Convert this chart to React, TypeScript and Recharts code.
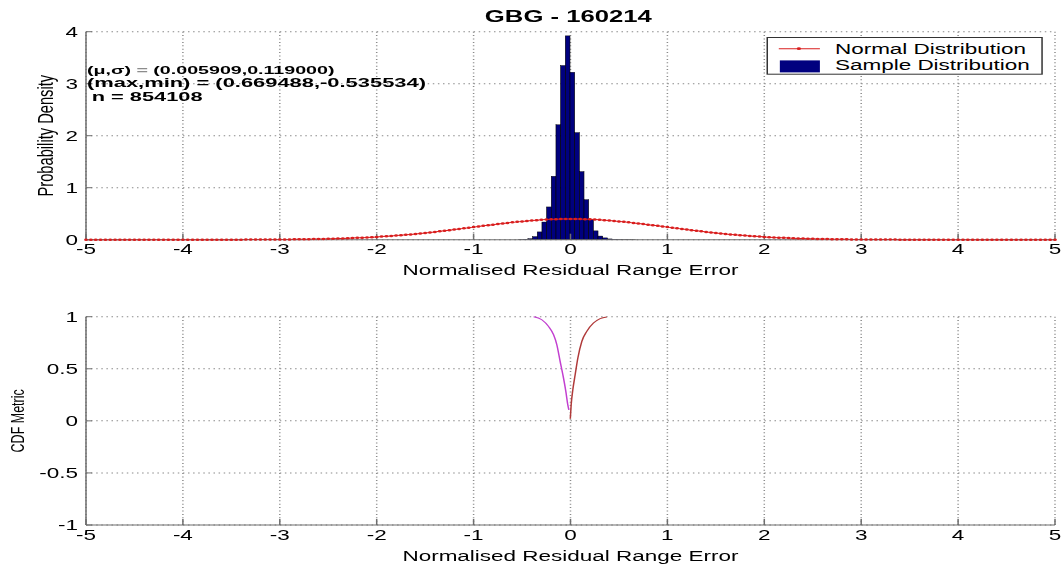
import React from 'react';
import {
  ComposedChart,
  Bar,
  Line,
  XAxis,
  YAxis,
  CartesianGrid,
  Legend,
  Label,
} from 'recharts';

// ---------- data ----------
const xTicks = [-5, -4, -3, -2, -1, 0, 1, 2, 3, 4, 5];
const pdfTicks = [0, 1, 2, 3, 4];
const cdfTicks = [-1, -0.5, 0, 0.5, 1];

// histogram: 25 bins between min and max
const binWidth = 0.0482;
const binCenters = [
  -0.5114, -0.4632, -0.415, -0.3668, -0.3186, -0.2704, -0.2222, -0.174, -0.1258,
  -0.0776, -0.0294, 0.0188, 0.067, 0.1152, 0.1634, 0.2116, 0.2598, 0.308, 0.3562,
  0.4044, 0.4526, 0.5008, 0.549, 0.5972, 0.6454,
];
const binDensity = [
  0.004, 0.008, 0.02, 0.06, 0.15, 0.34, 0.63, 1.22, 2.21, 3.35, 3.92, 3.22, 2.06,
  1.31, 0.77, 0.39, 0.17, 0.07, 0.035, 0.015, 0.008, 0.005, 0.003, 0.002, 0.001,
];

// normal distribution curve sampled every 0.05 from -5 to 5
const normalStart = -5;
const normalStep = 0.05;
const normalDensity = [
  0, 0, 0, 0, 0, 0, 0, 0, 0, 0, 0, 0, 0, 0,
  0.0001, 0.0001, 0.0001, 0.0001, 0.0001, 0.0001, 0.0001,
  0.0002, 0.0002, 0.0002, 0.0003, 0.0004, 0.0004, 0.0005, 0.0006, 0.0007,
  0.0009, 0.001, 0.0012, 0.0015, 0.0017, 0.002, 0.0024, 0.0028, 0.0033, 0.0038,
  0.0044, 0.0051, 0.006, 0.0069, 0.0079, 0.0091, 0.0104, 0.0119, 0.0136, 0.0154,
  0.0175, 0.0198, 0.0224, 0.0252, 0.0283, 0.0317, 0.0355, 0.0396, 0.044, 0.0488,
  0.054, 0.0596, 0.0656, 0.0721, 0.079, 0.0863, 0.094, 0.1023, 0.1109, 0.12,
  0.1295, 0.1394, 0.1497, 0.1604, 0.1714, 0.1826, 0.1942, 0.2059, 0.2179, 0.2299,
  0.242, 0.2541, 0.2661, 0.278, 0.2897, 0.3011, 0.3123, 0.323, 0.3332, 0.3429,
  0.3521, 0.3605, 0.3683, 0.3752, 0.3814, 0.3867, 0.391, 0.3945, 0.397, 0.3984,
  0.3989,
  0.3984, 0.397, 0.3945, 0.391, 0.3867, 0.3814, 0.3752, 0.3683, 0.3605, 0.3521,
  0.3429, 0.3332, 0.323, 0.3123, 0.3011, 0.2897, 0.278, 0.2661, 0.2541, 0.242,
  0.2299, 0.2179, 0.2059, 0.1942, 0.1826, 0.1714, 0.1604, 0.1497, 0.1394, 0.1295,
  0.12, 0.1109, 0.1023, 0.094, 0.0863, 0.079, 0.0721, 0.0656, 0.0596, 0.054,
  0.0488, 0.044, 0.0396, 0.0355, 0.0317, 0.0283, 0.0252, 0.0224, 0.0198, 0.0175,
  0.0154, 0.0136, 0.0119, 0.0104, 0.0091, 0.0079, 0.0069, 0.006, 0.0051, 0.0044,
  0.0038, 0.0033, 0.0028, 0.0024, 0.002, 0.0017, 0.0015, 0.0012, 0.001, 0.0009,
  0.0007, 0.0006, 0.0005, 0.0004, 0.0004, 0.0003, 0.0002, 0.0002, 0.0002,
  0.0001, 0.0001, 0.0001, 0.0001, 0.0001, 0.0001, 0.0001,
  0, 0, 0, 0, 0, 0, 0, 0, 0, 0, 0, 0, 0, 0,
];

// CDF metric curves
const cdfLeftX = [-0.381, -0.296, -0.227, -0.175, -0.141, -0.107, -0.072, -0.048, -0.028, -0.017];
const cdfLeftY = [1.0, 0.971, 0.907, 0.827, 0.731, 0.571, 0.41, 0.282, 0.154, 0.106];
const cdfRightX = [-0.002, 0.007, 0.024, 0.048, 0.076, 0.117, 0.168, 0.237, 0.306, 0.375];
const cdfRightY = [0.02, 0.154, 0.298, 0.442, 0.603, 0.763, 0.859, 0.939, 0.981, 0.997];

const titleText = 'GBG - 160214';
const statsMuSigma = '(0.005909,0.119000)';
const statsMaxMin = '(max,min) = (0.669488,-0.535534)';
const statsN = 'n = 854108';
const xLabelText = 'Normalised Residual Range Error';

// ---------- tables ----------
const histData = binCenters.map((x, i) => ({ x, y: binDensity[i] }));
const normalData = normalDensity.map((y, i) => ({ x: normalStart + i * normalStep, y }));
const cdfLeft = cdfLeftX.map((x, i) => ({ x, y: cdfLeftY[i] }));
const cdfRight = cdfRightX.map((x, i) => ({ x, y: cdfRightY[i] }));

// ---------- styles ----------
const FONT = "'Liberation Sans', Arial, Helvetica, sans-serif";
const SX = 1.5; // horizontal stretch of the whole figure
const W = 1062 / SX;
const PLOT_W = W - 57.33 - 4.67;
const AXIS = '#6e6e6e';
const GRID = '#8a8a8a';
const RED = '#d91e1e';
const NAVY = '#00007f';
const tickStyle = { fill: '#000', fontSize: 15, fontFamily: FONT };

// bar whose width spans one histogram bin on the x scale
const HistBar = (props: any) => {
  const { x, y, width, height } = props;
  if (height == null || !isFinite(height)) return null;
  const w = (binWidth / 10) * PLOT_W;
  const cx = x + width / 2;
  return (
    <rect
      x={cx - w / 2}
      y={y}
      width={w}
      height={Math.max(height, 0)}
      fill={NAVY}
      stroke="#000"
      strokeWidth={0.4}
    />
  );
};

const xLabel = (offset: number) => (props: any) => {
  const vb = props.viewBox || {};
  return (
    <text
      x={vb.x + vb.width / 2}
      y={vb.y + offset}
      textAnchor="middle"
      fontSize={15}
      fontFamily={FONT}
      fill="#000"
    >
      {xLabelText}
    </text>
  );
};

const yLabel = (text: string, cx: number, size: number) => (props: any) => {
  const vb = props.viewBox || {};
  const cy = vb.y + vb.height / 2;
  return (
    <text
      x={cx}
      y={cy}
      transform={`rotate(-90, ${cx}, ${cy})`}
      textAnchor="middle"
      dominantBaseline="central"
      fontSize={size}
      fontFamily={FONT}
      fill="#000"
    >
      {text}
    </text>
  );
};

const legendContent = () => (
  <svg width={184.2} height={37.7} style={{ display: 'block', overflow: 'visible' }}>
    <rect x={0.5} y={0.5} width={183.2} height={36.7} fill="#fff" stroke="#333" strokeWidth={1} />
    <line x1={8.2} x2={35.6} y1={11.7} y2={11.7} stroke={RED} strokeWidth={1} />
    <circle cx={21.6} cy={11.7} r={1.4} fill={RED} />
    <text x={45.6} y={16.7} fontSize={15} fontFamily={FONT} fill="#000">
      Normal Distribution
    </text>
    <rect x={8.9} y={23.4} width={26.7} height={12} fill={NAVY} />
    <text x={45.6} y={32.7} fontSize={15} fontFamily={FONT} fill="#000">
      Sample Distribution
    </text>
  </svg>
);

const blank = () => '';

export default function App() {
  return (
    <div
      style={{
        position: 'absolute',
        left: 0,
        top: 0,
        width: 1062,
        height: 570,
        background: '#fff',
        overflow: 'hidden',
      }}
    >
      <div
        style={{
          position: 'absolute',
          left: 0,
          top: 0,
          width: W,
          height: 570,
          transform: `scaleX(${SX})`,
          transformOrigin: '0 0',
        }}
      >
        {/* top: histogram + normal pdf */}
        <div style={{ position: 'absolute', left: 0, top: 0 }}>
          <ComposedChart
            width={W}
            height={290}
            data={histData}
            margin={{ top: 31.7, right: 4.67, left: 0, bottom: 0 }}
          >
            <CartesianGrid stroke={GRID} strokeDasharray="1 2.4" strokeWidth={1} />
            <XAxis
              dataKey="x"
              type="number"
              domain={[-5, 5]}
              ticks={xTicks}
              interval={0}
              height={50.3}
              tickSize={-6}
              tickMargin={9.5}
              axisLine={{ stroke: AXIS }}
              tickLine={{ stroke: AXIS }}
              tick={tickStyle}
            >
              <Label content={xLabel(35.8)} />
            </XAxis>
            <XAxis
              xAxisId="top"
              orientation="top"
              dataKey="x"
              type="number"
              domain={[-5, 5]}
              ticks={xTicks}
              interval={0}
              height={0}
              tickSize={-6}
              tickFormatter={blank}
              axisLine={{ stroke: AXIS }}
              tickLine={{ stroke: AXIS }}
            />
            <YAxis
              type="number"
              domain={[0, 4]}
              ticks={pdfTicks}
              interval={0}
              width={57.33}
              tickSize={-4}
              tickMargin={9.3}
              axisLine={{ stroke: AXIS }}
              tickLine={{ stroke: AXIS }}
              tick={tickStyle}
            >
              <Label content={yLabel('Probability Density', 30, 14.7)} />
            </YAxis>
            <YAxis
              yAxisId="right"
              orientation="right"
              type="number"
              domain={[0, 4]}
              ticks={pdfTicks}
              interval={0}
              width={0}
              tickSize={-4}
              tickFormatter={blank}
              axisLine={{ stroke: AXIS }}
              tickLine={{ stroke: AXIS }}
            />
            <Bar
              dataKey="y"
              barSize={3}
              fill={NAVY}
              shape={HistBar}
              isAnimationActive={false}
            />
            <Line
              data={normalData}
              dataKey="y"
              type="linear"
              stroke={RED}
              strokeWidth={1}
              dot={{ r: 1.25, fill: RED, stroke: 'none' }}
              activeDot={false}
              isAnimationActive={false}
            />
            <Legend
              layout="horizontal"
              verticalAlign="middle"
              align="center"
              content={legendContent}
              wrapperStyle={{
                position: 'absolute',
                left: 511.1,
                top: 37.3,
                width: 184.2,
                height: 37.7,
                margin: 0,
                padding: 0,
              }}
            />
          </ComposedChart>
        </div>

        {/* bottom: CDF metric */}
        <div style={{ position: 'absolute', left: 0, top: 290 }}>
          <ComposedChart
            width={W}
            height={280}
            margin={{ top: 26.7, right: 4.67, left: 0, bottom: 0 }}
          >
            <CartesianGrid stroke={GRID} strokeDasharray="1 2.4" strokeWidth={1} />
            <XAxis
              dataKey="x"
              type="number"
              domain={[-5, 5]}
              ticks={xTicks}
              interval={0}
              height={45}
              tickSize={-6}
              tickMargin={10.5}
              axisLine={{ stroke: AXIS }}
              tickLine={{ stroke: AXIS }}
              tick={tickStyle}
            >
              <Label content={xLabel(36.5)} />
            </XAxis>
            <XAxis
              xAxisId="top"
              orientation="top"
              dataKey="x"
              type="number"
              domain={[-5, 5]}
              ticks={xTicks}
              interval={0}
              height={0}
              tickSize={-6}
              tickFormatter={blank}
              axisLine={{ stroke: AXIS }}
              tickLine={{ stroke: AXIS }}
            />
            <YAxis
              type="number"
              domain={[-1, 1]}
              ticks={cdfTicks}
              interval={0}
              width={57.33}
              tickSize={-4}
              tickMargin={9.3}
              axisLine={{ stroke: AXIS }}
              tickLine={{ stroke: AXIS }}
              tick={tickStyle}
            >
              <Label content={yLabel('CDF Metric', 12, 12.5)} />
            </YAxis>
            <YAxis
              yAxisId="right"
              orientation="right"
              type="number"
              domain={[-1, 1]}
              ticks={cdfTicks}
              interval={0}
              width={0}
              tickSize={-4}
              tickFormatter={blank}
              axisLine={{ stroke: AXIS }}
              tickLine={{ stroke: AXIS }}
            />
            <Line
              data={cdfLeft}
              dataKey="y"
              type="monotone"
              stroke="#c23fd0"
              strokeWidth={1}
              dot={false}
              activeDot={false}
              isAnimationActive={false}
            />
            <Line
              data={cdfRight}
              dataKey="y"
              type="monotone"
              stroke="#b03a3a"
              strokeWidth={1}
              dot={false}
              activeDot={false}
              isAnimationActive={false}
            />
          </ComposedChart>
        </div>

        {/* title and statistics annotation */}
        <svg
          width={W}
          height={570}
          style={{ position: 'absolute', left: 0, top: 0, pointerEvents: 'none' }}
        >
          <text
            x={378.9}
            y={21.7}
            textAnchor="middle"
            fontSize={17}
            fontWeight="bold"
            fontFamily={FONT}
            fill="#000"
            textLength={111.3}
            lengthAdjust="spacingAndGlyphs"
          >
            {titleText}
          </text>
          <text
            x={58}
            y={74}
            fontSize={11.5}
            fontWeight="bold"
            fontFamily={FONT}
            fill="#000"
            textLength={165}
            lengthAdjust="spacingAndGlyphs"
          >
            (μ,σ)
            <tspan fill="#8c8c8c"> = </tspan>
            {statsMuSigma}
          </text>
          <text
            x={58}
            y={87.5}
            fontSize={13}
            fontWeight="bold"
            fontFamily={FONT}
            fill="#000"
            textLength={226}
            lengthAdjust="spacingAndGlyphs"
          >
            {statsMaxMin}
          </text>
          <text
            x={61.1}
            y={101}
            fontSize={13}
            fontWeight="bold"
            fontFamily={FONT}
            fill="#000"
            textLength={74}
            lengthAdjust="spacingAndGlyphs"
          >
            {statsN}
          </text>
        </svg>
      </div>
    </div>
  );
}
